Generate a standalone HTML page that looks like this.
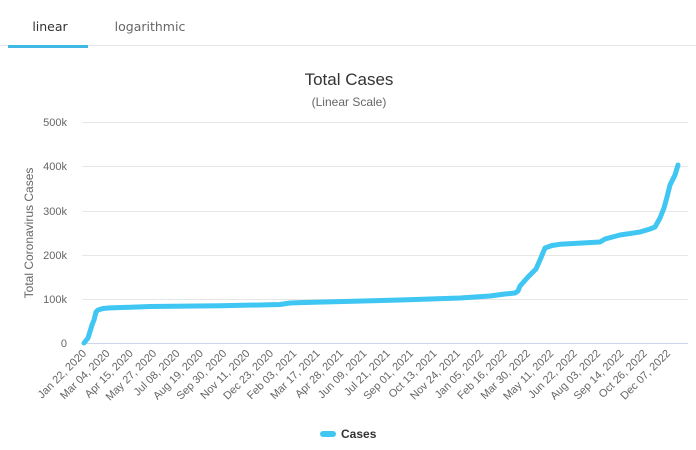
<!DOCTYPE html>
<html><head><style>
body{margin:0;background:#fff;width:696px;height:445px;overflow:hidden;font-family:"Liberation Sans",sans-serif}
</style></head><body>
<svg width="696" height="445" xmlns="http://www.w3.org/2000/svg" font-family="Liberation Sans, sans-serif">
<line x1="0" y1="45.5" x2="696" y2="45.5" stroke="#e6e6e6"/>
<rect x="8" y="45" width="80" height="3" fill="#3fb8e6"/>
<text x="50" y="31" font-size="12.5" fill="#333" text-anchor="middle" font-family="DejaVu Sans, sans-serif">linear</text>
<text x="150" y="31" font-size="12.5" fill="#666" text-anchor="middle" font-family="DejaVu Sans, sans-serif">logarithmic</text>
<text x="349" y="85" font-size="17" fill="#333" text-anchor="middle">Total Cases</text>
<text x="349" y="106" font-size="12" fill="#666" text-anchor="middle">(Linear Scale)</text>
<g stroke="#e6e6e6" stroke-width="1">
<line x1="82" y1="122.5" x2="688" y2="122.5"/><line x1="82" y1="166.5" x2="688" y2="166.5"/>
<line x1="82" y1="211.5" x2="688" y2="211.5"/><line x1="82" y1="255.5" x2="688" y2="255.5"/>
<line x1="82" y1="299.5" x2="688" y2="299.5"/>
</g>
<line x1="82" y1="343.5" x2="688" y2="343.5" stroke="#ccd6eb"/>
<g font-size="11" fill="#666" text-anchor="end">
<text x="67" y="126">500k</text><text x="67" y="170">400k</text><text x="67" y="215">300k</text>
<text x="67" y="259">200k</text><text x="67" y="303">100k</text><text x="67" y="347">0</text>
</g>
<text transform="translate(33,233) rotate(-90)" font-size="12" fill="#666" text-anchor="middle">Total Coronavirus Cases</text>
<polyline fill="none" stroke="#3fc6f2" stroke-width="5" stroke-linejoin="round" stroke-linecap="round" points="84,343 88,338 92,325 94,320 96,312 98,310 103,308.5 108,308 150,306.5 220,305.8 280,304.5 290,303 300,302.6 400,300 460,298 490,296 505,294 515,293 518,291 520,286 528,277 536,269 540,260 545,248 552,245.5 560,244.3 600,242 605,239 620,235 640,232 650,229 655,227 660,218 664,208 667,197 670,185 675,175 678,165"/>
<g font-size="11" fill="#666" text-anchor="end">
<text transform="translate(87,354) rotate(-45)">Jan 22, 2020</text>
<text transform="translate(110.4,354) rotate(-45)">Mar 04, 2020</text>
<text transform="translate(133.7,354) rotate(-45)">Apr 15, 2020</text>
<text transform="translate(157.1,354) rotate(-45)">May 27, 2020</text>
<text transform="translate(180.4,354) rotate(-45)">Jul 08, 2020</text>
<text transform="translate(203.8,354) rotate(-45)">Aug 19, 2020</text>
<text transform="translate(227.2,354) rotate(-45)">Sep 30, 2020</text>
<text transform="translate(250.5,354) rotate(-45)">Nov 11, 2020</text>
<text transform="translate(273.9,354) rotate(-45)">Dec 23, 2020</text>
<text transform="translate(297.2,354) rotate(-45)">Feb 03, 2021</text>
<text transform="translate(320.6,354) rotate(-45)">Mar 17, 2021</text>
<text transform="translate(344,354) rotate(-45)">Apr 28, 2021</text>
<text transform="translate(367.3,354) rotate(-45)">Jun 09, 2021</text>
<text transform="translate(390.7,354) rotate(-45)">Jul 21, 2021</text>
<text transform="translate(414,354) rotate(-45)">Sep 01, 2021</text>
<text transform="translate(437.4,354) rotate(-45)">Oct 13, 2021</text>
<text transform="translate(460.8,354) rotate(-45)">Nov 24, 2021</text>
<text transform="translate(484.1,354) rotate(-45)">Jan 05, 2022</text>
<text transform="translate(507.5,354) rotate(-45)">Feb 16, 2022</text>
<text transform="translate(530.8,354) rotate(-45)">Mar 30, 2022</text>
<text transform="translate(554.2,354) rotate(-45)">May 11, 2022</text>
<text transform="translate(577.6,354) rotate(-45)">Jun 22, 2022</text>
<text transform="translate(600.9,354) rotate(-45)">Aug 03, 2022</text>
<text transform="translate(624.3,354) rotate(-45)">Sep 14, 2022</text>
<text transform="translate(647.6,354) rotate(-45)">Oct 26, 2022</text>
<text transform="translate(671,354) rotate(-45)">Dec 07, 2022</text>
</g>
<rect x="320" y="431" width="16" height="6" rx="3" fill="#3fc6f2"/>
<text x="341" y="438" font-size="12" font-weight="bold" fill="#333">Cases</text>
</svg>
</body></html>
